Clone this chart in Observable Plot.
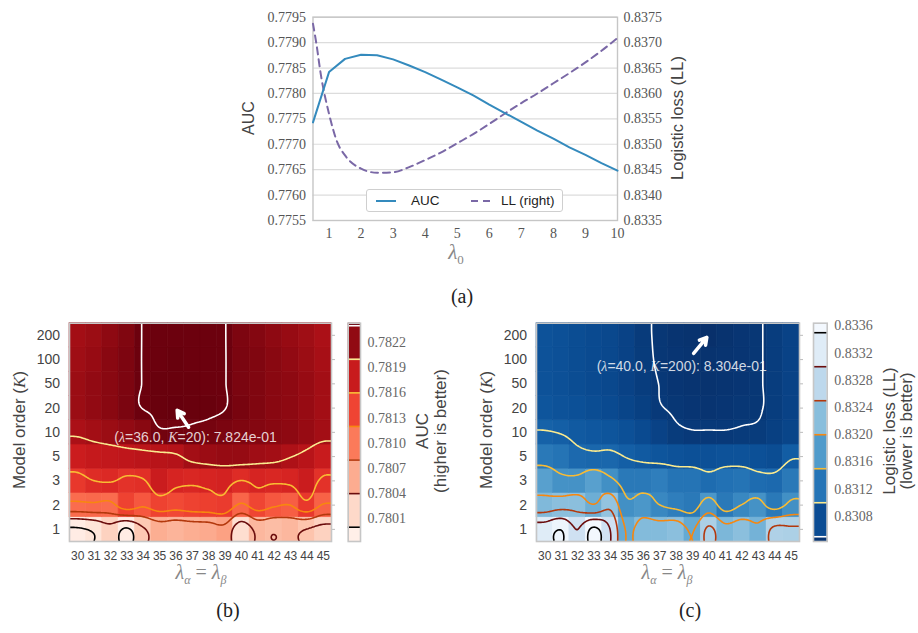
<!DOCTYPE html>
<html><head><meta charset="utf-8">
<script src="https://cdn.jsdelivr.net/npm/d3@7"></script>
<script src="https://cdn.jsdelivr.net/npm/@observablehq/plot@0.6"></script>
<style>
html,body{margin:0;padding:0;background:#fff;}
#page{position:relative;width:918px;height:633px;overflow:hidden;background:#fff;font-family:"Liberation Sans",Arial,sans-serif;}
.lbl{position:absolute;white-space:nowrap;line-height:1;}
</style></head>
<body><div id="page"></div>
<script>
// ---------- panel (a) data ----------
const lambda0 = [0.5,1,1.5,2,2.5,3,3.5,4,4.5,5,5.5,6,6.5,7,7.5,8,8.5,9,9.5,10];
const aucA = [0.77743,0.77842,0.77868,0.77876,0.77875,0.77867,0.77855,0.77842,0.77827,0.77812,0.77796,0.77778,0.77761,0.77744,0.77727,0.77711,0.77694,0.77679,0.77663,0.77648];
const lambda0LL = [0.5,0.6,0.75,1,1.25,1.5,2,2.5,3,3.5,4,4.5,5,5.5,6,6.5,7,7.5,8,8.5,9,9.5,10];
const llA = [0.83737,0.83700,0.83635,0.83560,0.83505,0.83478,0.83452,0.83444,0.83445,0.83455,0.83469,0.83484,0.83502,0.83520,0.83540,0.83561,0.83581,0.83600,0.83620,0.83640,0.83661,0.83684,0.83709];
const aucTicks = [0.7755,0.7760,0.7765,0.7770,0.7775,0.7780,0.7785,0.7790,0.7795];
const llTicks = [0.8335,0.8340,0.8345,0.8350,0.8355,0.8360,0.8365,0.8370,0.8375];
const lambda0Ticks = [1,2,3,4,5,6,7,8,9,10];

// ---------- panels (b), (c) data ----------
const lambdaAB = [30,31,32,33,34,35,36,37,38,39,40,41,42,43,44,45];
const modelOrders = [1,2,3,5,10,20,50,100,200];
// AUC grid, rows K = 1,2,3,5,10,20,50,100,200
const aucGrid = [
  [0.77996,0.780064,0.780272,0.77996,0.78035,0.780584,0.780532,0.780584,0.78061,0.780688,0.780142,0.780506,0.780454,0.780506,0.780402,0.780272],
  [0.781104,0.78113,0.781104,0.781416,0.78126,0.781416,0.781364,0.781416,0.781442,0.781468,0.781156,0.78139,0.78126,0.781208,0.781494,0.781182],
  [0.781496,0.7816,0.781626,0.781548,0.781574,0.781782,0.781678,0.781652,0.781678,0.781704,0.7816,0.781678,0.781652,0.781678,0.781782,0.781548],
  [0.78178,0.781832,0.781858,0.781884,0.78191,0.781936,0.781962,0.782094,0.782146,0.782172,0.782172,0.78212,0.782094,0.782014,0.781936,0.781806],
  [0.78204,0.782092,0.782144,0.782196,0.782248,0.782365,0.782365,0.782365,0.782352,0.782326,0.7823,0.782274,0.782248,0.782222,0.78217,0.782092],
  [0.782144,0.782196,0.782248,0.782326,0.782404,0.782417,0.78243,0.782417,0.782417,0.782404,0.782339,0.7823,0.782248,0.782222,0.78217,0.782092],
  [0.782144,0.782196,0.782248,0.782313,0.782404,0.782417,0.782417,0.782417,0.782404,0.782404,0.782326,0.7823,0.782248,0.782222,0.78217,0.782092],
  [0.782118,0.78217,0.782248,0.782313,0.782404,0.782404,0.782417,0.782404,0.782404,0.782404,0.782326,0.7823,0.782248,0.782196,0.782144,0.782066],
  [0.782092,0.782144,0.782222,0.7823,0.782404,0.782404,0.782404,0.782404,0.782404,0.782404,0.782313,0.782274,0.782222,0.78217,0.782118,0.78204]
];
// Logistic loss grid, rows K = 1,2,3,5,10,20,50,100,200
const llGrid = [
  [0.833251,0.833478,0.832992,0.833575,0.832992,0.831955,0.832214,0.832214,0.832279,0.831955,0.832571,0.83215,0.832279,0.832085,0.832603,0.832571],
  [0.832182,0.832279,0.832279,0.83202,0.832344,0.831599,0.831696,0.831502,0.831372,0.831307,0.831696,0.831307,0.831502,0.831631,0.831307,0.831599],
  [0.831826,0.831631,0.831631,0.831826,0.831599,0.831307,0.831307,0.831372,0.831242,0.831242,0.831145,0.83121,0.831242,0.831145,0.831113,0.831307],
  [0.831307,0.831242,0.831113,0.83108,0.83108,0.830983,0.830918,0.830854,0.830821,0.830789,0.830789,0.830821,0.830821,0.830789,0.830756,0.830951],
  [0.831016,0.830983,0.830918,0.830886,0.830854,0.830789,0.830724,0.830627,0.830546,0.830513,0.830513,0.830513,0.83053,0.830546,0.830594,0.830659],
  [0.830854,0.830821,0.830789,0.830756,0.830724,0.830659,0.830594,0.830513,0.830481,0.830465,0.830449,0.830465,0.830481,0.830481,0.830562,0.830627],
  [0.830821,0.830789,0.830756,0.830724,0.830692,0.830627,0.830562,0.830497,0.830465,0.830449,0.830432,0.830449,0.830465,0.830481,0.830562,0.830627],
  [0.830821,0.830789,0.830756,0.830724,0.830692,0.830627,0.830546,0.830481,0.830465,0.830449,0.830432,0.830449,0.830465,0.830481,0.830562,0.830627],
  [0.830821,0.830789,0.830756,0.830724,0.830692,0.830627,0.83053,0.830481,0.830449,0.830432,0.8304,0.830432,0.830465,0.830481,0.830562,0.830627]
];
const aucLevels = [0.7800,0.7804,0.7808,0.7812,0.7816,0.7820,0.7824];
const llLevels = [0.8305,0.8310,0.8315,0.8320,0.8325,0.8330,0.8335];
const aucBarTicks = [0.7801,0.7804,0.7807,0.7810,0.7813,0.7816,0.7819,0.7822];
const llBarTicks = [0.8308,0.8312,0.8316,0.8320,0.8324,0.8328,0.8332,0.8336];
const aucColorDomain = [0.77983,0.78243];
const llColorDomain = [0.8304,0.83364];
const llBarDomain = [0.83043,0.83364];
const hotColors = ["#000000","#6a0c0c","#b3380c","#f7870f","#f9bb33","#fbeb8f","#ffffff"];

// ---------- helpers ----------
const page = document.getElementById("page");
function put(node, left, top, parent){ node.style.position="absolute"; node.style.left=left+"px"; node.style.top=top+"px"; (parent||page).appendChild(node); return node; }
function label(html, cx, cy, css, rot){
  const d=document.createElement("div"); d.className="lbl"; d.innerHTML=html;
  d.style.left=cx+"px"; d.style.top=cy+"px";
  d.style.transform="translate(-50%,-50%)"+(rot?" rotate(-90deg)":"");
  d.style.cssText += css; page.appendChild(d);
}
function cubic(p0,p1,p2,p3,t){ return p1 + 0.5*t*(p2-p0 + t*(2*p0-5*p1+4*p2-p3 + t*(3*(p1-p2)+p3-p0))); }
function surface(grid){
  const nr=grid.length, nc=grid[0].length;
  const g=(r,c)=>grid[Math.max(0,Math.min(nr-1,r))][Math.max(0,Math.min(nc-1,c))];
  return (cx,ry)=>{
    const i=Math.floor(cx), j=Math.floor(ry), tx=cx-i, ty=ry-j;
    const r=[-1,0,1,2].map(m=>cubic(g(j+m,i-1),g(j+m,i),g(j+m,i+1),g(j+m,i+2),tx));
    return cubic(r[0],r[1],r[2],r[3],ty);
  };
}
function sci(v){ const [m,e]=v.toExponential(3).split("e"); const n=+e; return m+"e"+(n<0?"-":"+")+String(Math.abs(n)).padStart(2,"0"); }
const serif = "'Liberation Serif', 'Times New Roman', serif";
const sans = "'Liberation Sans', Arial, sans-serif";

// ---------- panel (a) ----------
const llShift = llTicks[0]-aucTicks[0];
const aucSeries = lambda0.map((x,i)=>({x, v:aucA[i]}));
const llSeries = lambda0LL.map((x,i)=>({x, v:llA[i]}));
const figA = Plot.plot({
  width:460, height:262, marginLeft:82.5, marginRight:73, marginTop:16.7, marginBottom:42,
  x:{domain:[0.5,10]}, y:{domain:[aucTicks[0], aucTicks[aucTicks.length-1]]},
  style:{fontFamily:serif, fontSize:"14px", color:"#555", background:"transparent", overflow:"visible"},
  marks:[
    Plot.ruleY(aucTicks,{stroke:"#dcdcdc", strokeWidth:1.2}),
    Plot.frame({stroke:"#c6c6c6", strokeWidth:1.4}),
    Plot.axisY(aucTicks,{anchor:"left", tickSize:0, tickPadding:7, tickFormat:d=>d.toFixed(4), label:null}),
    Plot.axisY(aucTicks,{anchor:"right", tickSize:0, tickPadding:6, tickFormat:d=>(d+llShift).toFixed(4), label:null}),
    Plot.axisX(lambda0Ticks,{tickSize:0, tickPadding:8, label:null}),
    Plot.line(llSeries,{x:"x", y:d=>d.v-llShift, stroke:"#7A68A6", strokeWidth:2, strokeDasharray:"7,5", curve:"monotone-x"}),
    Plot.line(aucSeries,{x:"x", y:"v", stroke:"#348ABD", strokeWidth:2})
  ]
});
put(figA, 230, 0);

// ---------- heatmap builder ----------
const heatTop = 300, mTop = 22.7, mBottom = 29, heatH = 270;
function heatmap({grid, levels, colors, scheme, reverse, domain, left, width, mL, mR, pick, arrowOff, textOff}){
  const cells = grid.flatMap((row,k)=>row.map((v,j)=>({lam:lambdaAB[j], k, v})));
  const best = pick(cells);
  best.K = modelOrders[best.k];
  const surf = surface(grid);
  const x1=lambdaAB[0]-0.5, x2=lambdaAB[lambdaAB.length-1]+0.5, y1=-0.5, y2=modelOrders.length-0.5;
  const idx = d3.range(modelOrders.length);
  const fig = Plot.plot({
    width, height:heatH, marginLeft:mL, marginRight:mR, marginTop:mTop, marginBottom:mBottom,
    x:{domain:[x1,x2]}, y:{domain:[y1,y2]},
    color:{type:"linear", scheme, reverse, domain, clamp:true},
    style:{fontFamily:sans, fontSize:"14px", color:"#444", background:"transparent", overflow:"visible"},
    marks:[
      Plot.rect(cells,{x1:d=>d.lam-0.5, x2:d=>d.lam+0.5, y1:d=>d.k-0.5, y2:d=>d.k+0.5, fill:"v", stroke:"v", strokeWidth:0.6}),
      Plot.axisX(lambdaAB,{tickSize:0, tickPadding:9.5, fontSize:12, label:null}),
      Plot.axisY(idx,{anchor:"left", tickSize:0, tickPadding:9.5, tickFormat:i=>modelOrders[i], fontSize:14, label:null}),
      Plot.axisY(idx,{anchor:"right", tickSize:3, tickPadding:0, tickFormat:()=>"", stroke:"#bbb", label:null})
    ]
  });
  put(fig, left, heatTop);

  // contour overlay: sampled beyond the frame so the rings close outside it; the wrapper hides the excess
  const fw = width-mL-mR, fh = heatH-mTop-mBottom;
  const pxX = fw/(x2-x1), pxY = fh/(y2-y1), pad = 1.5;
  const wrap = document.createElement("div");
  wrap.style.cssText = `width:${fw}px;height:${fh}px;overflow:hidden;box-sizing:border-box;`;
  put(wrap, left+mL, heatTop+mTop);
  const ovW = fw+2*pad*pxX, ovH = fh+2*pad*pxY;
  const ov = Plot.plot({
    width: ovW, height: ovH, margin:0,
    x:{domain:[x1-pad,x2+pad], axis:null}, y:{domain:[y1-pad,y2+pad], axis:null},
    style:{background:"transparent", overflow:"visible", maxWidth:"none"},
    marks:[
      ...levels.map((L,i)=>Plot.contour(null,{x1:x1-pad, x2:x2+pad, y1:y1-pad, y2:y2+pad, value:(x,y)=>surf(x-lambdaAB[0], y), thresholds:[L], stroke:colors[i], fill:"none", strokeWidth:1.6, pixelSize:1})),
      Plot.arrow([best],{x1:d=>d.lam+arrowOff[0], y1:d=>d.k+arrowOff[1], x2:"lam", y2:"k", stroke:"white", strokeWidth:3.5, headLength:8, insetEnd:3}),
      Plot.text([best],{x:"lam", y:"k", text:d=>`(λ=${d.lam.toFixed(1)}, K=${d.K}): ${sci(d.v)}`, dx:textOff[0], dy:textOff[1], fill:"white", fillOpacity:0.82, fontSize:14, fontFamily:sans})
    ]
  });
  ov.style.maxWidth = "none";
  ov.style.width = ovW+"px";
  ov.style.height = ovH+"px";
  ov.querySelectorAll("text").forEach(t=>{
    const s=t.textContent;
    if (s.startsWith("(λ=")) {
      t.innerHTML = s.replace("λ",'<tspan font-family="Liberation Serif" font-style="italic">λ</tspan>')
                     .replace("K=",'<tspan font-family="Liberation Serif" font-style="italic">K</tspan>=');
    }
  });
  put(ov, -pad*pxX, -pad*pxY, wrap);

  // frame on top
  const fr = Plot.plot({
    width, height:heatH, marginLeft:mL, marginRight:mR, marginTop:mTop, marginBottom:mBottom,
    x:{domain:[x1,x2], axis:null}, y:{domain:[y1,y2], axis:null},
    style:{background:"transparent", overflow:"visible"},
    marks:[Plot.frame({stroke:"#c6c6c6", strokeWidth:1.6})]
  });
  fr.style.pointerEvents="none";
  put(fr, left, heatTop);
}
function colorbar({levels, colors, scheme, reverse, colorDomain, barDomain, ticks, left, width, mL, barW}){
  const edges=[barDomain[0], ...levels, barDomain[1]];
  const bands=edges.slice(1).map((hi,i)=>({lo:edges[i], hi, mid:(edges[i]+hi)/2}));
  const fig = Plot.plot({
    width, height:heatH, marginLeft:mL, marginRight:width-mL-barW, marginTop:mTop, marginBottom:mBottom,
    x:{domain:[0,1], axis:null}, y:{domain:barDomain, axis:null},
    color:{type:"linear", scheme, reverse, domain:colorDomain, clamp:true},
    style:{fontFamily:serif, fontSize:"14px", color:"#666", background:"transparent", overflow:"visible"},
    marks:[
      Plot.rect(bands,{x1:()=>0, x2:()=>1, y1:"lo", y2:"hi", fill:"mid"}),
      ...levels.map((L,i)=>Plot.ruleY([L],{stroke:colors[i], strokeWidth:1.6})),
      Plot.frame({stroke:"#c6c6c6", strokeWidth:1.6}),
      Plot.axisY(ticks,{anchor:"right", tickSize:0, tickPadding:7, tickFormat:d=>d.toFixed(4), label:null})
    ]
  });
  put(fig, left, heatTop);
}

// ---------- panel (b) ----------
heatmap({grid:aucGrid, levels:aucLevels, colors:hotColors, scheme:"reds", reverse:false, domain:aucColorDomain,
  left:0, width:340, mL:69, mR:9, pick:c=>d3.greatest(c,d=>d.v), arrowOff:[0.8,-0.8], textOff:[20,30]});
colorbar({levels:aucLevels, colors:hotColors, scheme:"reds", reverse:false, colorDomain:aucColorDomain, barDomain:aucColorDomain,
  ticks:aucBarTicks, left:340, width:100, mL:7.7, barW:12.3});

// ---------- panel (c) ----------
const llColors = hotColors.slice().reverse();
heatmap({grid:llGrid, levels:llLevels, colors:llColors, scheme:"blues", reverse:true, domain:llColorDomain,
  left:450, width:355, mL:86, mR:6, pick:c=>d3.least(c,d=>d.v), arrowOff:[-0.92,-0.76], textOff:[-27,32]});
colorbar({levels:llLevels, colors:llColors, scheme:"blues", reverse:true, colorDomain:llColorDomain, barDomain:llBarDomain,
  ticks:llBarTicks, left:800, width:118, mL:13, barW:13.7});

// ---------- text labels ----------
const it = s=>`<span style="font-family:${serif};font-style:italic">${s}</span>`;
label("AUC", 249, 118, `font-family:${sans};font-size:16px;color:#444;`, true);
label("Logistic loss (LL)", 677, 118, `font-family:${sans};font-size:16.5px;color:#444;`, true);
label(`${it("λ")}<sub style="font-size:13px;">0</sub>`, 456, 254, `font-family:${serif};font-size:21px;color:#888;`);
label("(a)", 462, 296, `font-family:${serif};font-size:20px;color:#222;`);

// legend (a)
const legend = document.createElement("div");
legend.style.cssText = "position:absolute;left:366px;top:189px;width:195px;height:21px;border:1px solid #cfcfcf;border-radius:3px;background:#fff;";
legend.innerHTML = `<svg width="195" height="21" style="position:absolute;left:0;top:0">
<line x1="9" y1="11" x2="29" y2="11" stroke="#348ABD" stroke-width="2"/>
<line x1="104" y1="11" x2="127" y2="11" stroke="#7A68A6" stroke-width="2" stroke-dasharray="7,5"/></svg>
<span style="position:absolute;left:44px;top:3px;font-family:${sans};font-size:13.5px;color:#222;">AUC</span>
<span style="position:absolute;left:134px;top:3px;font-family:${sans};font-size:13.5px;color:#222;">LL (right)</span>`;
page.appendChild(legend);

label(`Model order (${it("K")})`, 19, 430, `font-family:${sans};font-size:17px;color:#444;`, true);
label(`${it("λ")}<sub style="font-size:12px;font-style:italic">α</sub> = ${it("λ")}<sub style="font-size:12px;font-style:italic">β</sub>`, 201, 574, `font-family:${serif};font-size:20px;color:#888;`);
label(`<div style="text-align:center;line-height:18px">AUC<br>(higher is better)</div>`, 432, 431, `font-family:${sans};font-size:17px;color:#444;`, true);
label("(b)", 228, 610, `font-family:${serif};font-size:20px;color:#222;`);

label(`Model order (${it("K")})`, 486, 430, `font-family:${sans};font-size:17px;color:#444;`, true);
label(`${it("λ")}<sub style="font-size:12px;font-style:italic">α</sub> = ${it("λ")}<sub style="font-size:12px;font-style:italic">β</sub>`, 667, 574, `font-family:${serif};font-size:20px;color:#888;`);
label(`<div style="text-align:center;line-height:17px">Logistic loss (LL)<br>(lower is better)</div>`, 898, 431, `font-family:${sans};font-size:17px;color:#444;`, true);
label("(c)", 690, 610, `font-family:${serif};font-size:20px;color:#222;`);
</script></body></html>
